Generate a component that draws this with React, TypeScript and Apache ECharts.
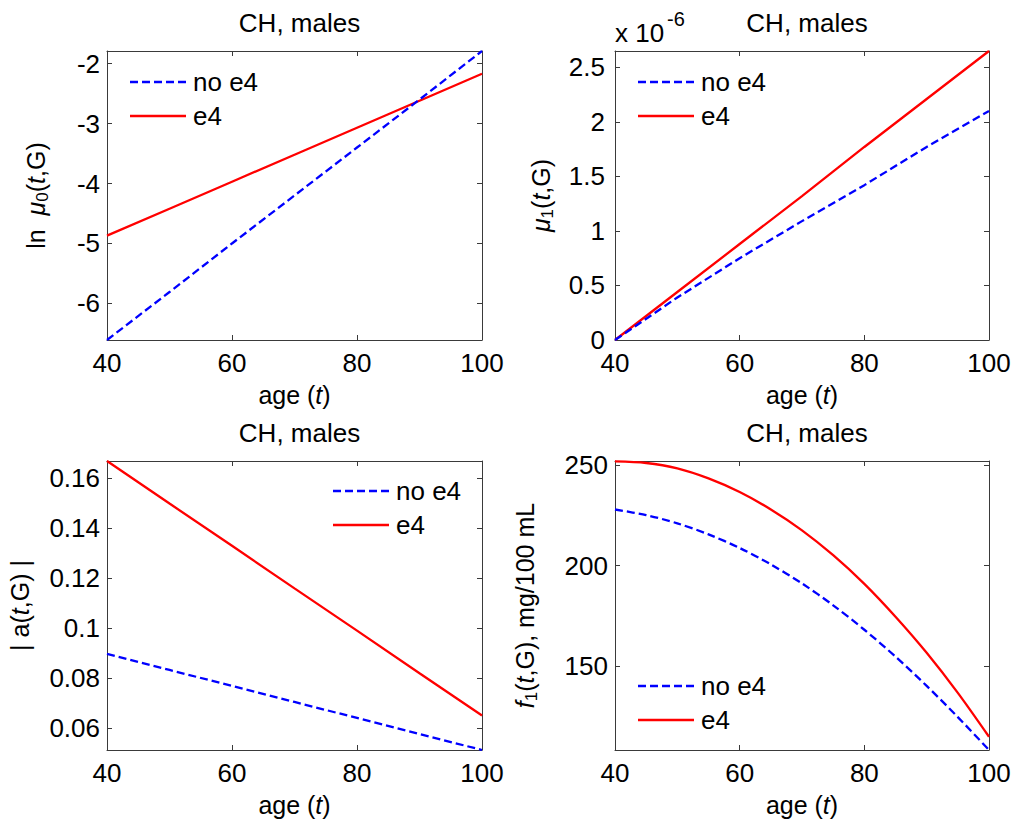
import React, { useEffect, useRef } from "react";
import * as echarts from "echarts";

// ---- data ----
const ages = [40, 50, 60, 70, 80, 90, 100];
const ages5 = [40, 45, 50, 55, 60, 65, 70, 75, 80, 85, 90, 95, 100];

const lnMu0NoE4 = [-6.61, -5.81, -5.0, -4.2, -3.4, -2.6, -1.79];
const lnMu0E4 = [-4.87, -4.42, -3.97, -3.52, -3.07, -2.62, -2.17];

const mu1NoE4 = [0, 0.39, 0.75, 1.09, 1.42, 1.77, 2.1]; // x 1e-6
const mu1E4 = [0, 0.44, 0.88, 1.32, 1.77, 2.21, 2.65]; // x 1e-6

const aNoE4 = [0.0897, 0.0833, 0.0769, 0.0705, 0.0641, 0.0577, 0.0513];
const aE4 = [0.1668, 0.1498, 0.1329, 0.1159, 0.0990, 0.0820, 0.0651];

const f1NoE4 = [228, 225.2, 221.1, 215.6, 208.8, 200.6, 191.1, 180.2, 168, 154.6, 140, 124.4, 108];
const f1E4 = [252, 251.2, 248.5, 243.5, 236.7, 228, 217.6, 205.2, 190.9, 174.5, 156.5, 136.5, 114.6];

const xTicks = { min: 40, max: 100, interval: 20 };
const yTicksLnMu0 = [-6, -5, -4, -3, -2];
const yTicksMu1 = [0, 0.5, 1, 1.5, 2, 2.5];
const yTicksA = [0.06, 0.08, 0.1, 0.12, 0.14, 0.16];
const yTicksF1 = [150, 200, 250];
const titleText = "CH, males";
const seriesNames = ["no e4", "e4"];

const FONT = "Liberation Sans, Arial, Helvetica, sans-serif";
const FS = 26;
const AXIS_COLOR = "#3a3a3a";
const BLUE = "#0000ff";
const RED = "#ff0000";

const grids = [
  { left: 107, top: 51, width: 375, height: 289 },
  { left: 615, top: 51, width: 374, height: 289 },
  { left: 107, top: 461, width: 375, height: 289 },
  { left: 615, top: 461, width: 374, height: 289 },
];

const nameRich = {
  n: { fontSize: 25, fontFamily: FONT, color: "#000", lineHeight: 30, verticalAlign: "middle" },
  i: { fontSize: 25, fontFamily: FONT, fontStyle: "italic", color: "#000", lineHeight: 30, verticalAlign: "middle" },
  s: { fontSize: 17, fontFamily: FONT, color: "#000", lineHeight: 20, verticalAlign: "bottom" },
};

export default function App() {
  const ref = useRef<HTMLDivElement>(null);
  useEffect(() => {
    if (!ref.current) return;
    const chart = echarts.init(ref.current, undefined, { renderer: "svg" });

    const yCfg = [
      { min: -6.61, max: -1.79, ticks: yTicksLnMu0, name: "{n|ln  }{i|μ}{s|0}{n|(}{i|t}{n|,G)}", gap: 56, margin: 7 },
      { min: 0, max: 2.65, ticks: yTicksMu1, name: "{i|μ}{s|1}{n|(}{i|t}{n|,G)}", gap: 59, margin: 10 },
      { min: 0.0513, max: 0.1668, ticks: yTicksA, name: "{n|| a(}{i|t}{n|,G) |}", gap: 72, margin: 7 },
      { min: 108, max: 252.2, ticks: yTicksF1, name: "{i|f}{s|1}{n|(}{i|t}{n|,G), mg/100 mL}", gap: 75, margin: 7 },
    ];

    const xAxis: any[] = [];
    const yAxis: any[] = [];
    grids.forEach((g, k) => {
      xAxis.push({
        type: "value",
        gridIndex: k,
        min: xTicks.min,
        max: xTicks.max,
        interval: xTicks.interval,
        name: "{n|age (}{i|t}{n|)}",
        nameLocation: "middle",
        nameGap: 40,
        nameTextStyle: { rich: nameRich },
        axisLine: { show: true, onZero: false, lineStyle: { color: AXIS_COLOR, width: 1 } },
        axisTick: { show: true, inside: true, length: 5, lineStyle: { color: AXIS_COLOR } },
        axisLabel: { color: "#000", fontSize: FS, fontFamily: FONT, margin: 13, lineHeight: 20 },
        splitLine: { show: false },
      });
      xAxis.push({
        type: "value",
        gridIndex: k,
        position: "top",
        min: xTicks.min,
        max: xTicks.max,
        interval: xTicks.interval,
        axisLine: { show: true, onZero: false, lineStyle: { color: AXIS_COLOR, width: 1 } },
        axisTick: { show: true, inside: true, length: 5, lineStyle: { color: AXIS_COLOR } },
        axisLabel: { show: false },
        splitLine: { show: false },
      });
      const c = yCfg[k];
      yAxis.push({
        type: "value",
        gridIndex: k,
        min: c.min,
        max: c.max,
        name: c.name,
        nameLocation: "middle",
        nameGap: c.gap,
        nameTextStyle: { rich: nameRich },
        axisLine: { show: true, onZero: false, lineStyle: { color: AXIS_COLOR, width: 1 } },
        axisTick: { show: true, inside: true, length: 5, customValues: c.ticks, lineStyle: { color: AXIS_COLOR } },
        axisLabel: {
          color: "#000",
          fontSize: FS,
          fontFamily: FONT,
          margin: c.margin,
          lineHeight: 20,
          customValues: c.ticks,
        },
        splitLine: { show: false },
      });
      yAxis.push({
        type: "value",
        gridIndex: k,
        position: "right",
        min: c.min,
        max: c.max,
        axisLine: { show: true, onZero: false, lineStyle: { color: AXIS_COLOR, width: 1 } },
        axisTick: { show: true, inside: true, length: 5, customValues: c.ticks, lineStyle: { color: AXIS_COLOR } },
        axisLabel: { show: false },
        splitLine: { show: false },
      });
    });

    const pair = (xs: number[], ys: number[]) => xs.map((x, i) => [x, ys[i]]);
    const datasets = [
      [pair(ages, lnMu0NoE4), pair(ages, lnMu0E4)],
      [pair(ages, mu1NoE4), pair(ages, mu1E4)],
      [pair(ages, aNoE4), pair(ages, aE4)],
      [pair(ages5, f1NoE4), pair(ages5, f1E4)],
    ];

    const series: any[] = [];
    datasets.forEach((d, k) => {
      series.push({
        type: "line",
        name: seriesNames[0],
        xAxisIndex: 2 * k,
        yAxisIndex: 2 * k,
        data: d[0],
        showSymbol: false,
        symbol: "none",
        smooth: k === 3 ? 0.3 : false,
        lineStyle: { color: BLUE, width: 2.3, type: [8, 4] },
        itemStyle: { color: BLUE },
        z: 3,
      });
      series.push({
        type: "line",
        name: seriesNames[1],
        xAxisIndex: 2 * k,
        yAxisIndex: 2 * k,
        data: d[1],
        showSymbol: false,
        symbol: "none",
        smooth: k === 3 ? 0.3 : false,
        lineStyle: { color: RED, width: 2.3, type: "solid" },
        itemStyle: { color: RED },
        z: 2,
      });
    });

    const titles = grids.map((g) => ({
      text: titleText,
      left: g.left + g.width / 2,
      top: g.top - 46,
      textAlign: "center",
      textStyle: { fontSize: FS, fontWeight: "normal", fontFamily: FONT, color: "#000" },
    }));

    const legendPos = [
      { x: 130, y: 82 },
      { x: 638, y: 82 },
      { x: 333, y: 491 },
      { x: 638, y: 686 },
    ];
    const graphic: any[] = [];
    legendPos.forEach((p) => {
      graphic.push({
        type: "line",
        shape: { x1: p.x, y1: p.y, x2: p.x + 56, y2: p.y },
        style: { stroke: BLUE, lineWidth: 2.3, lineDash: [8, 4] },
      });
      graphic.push({
        type: "text",
        x: p.x + 63,
        y: p.y,
        style: { text: seriesNames[0], fontSize: FS, fontFamily: FONT, fill: "#000", verticalAlign: "middle" },
      });
      graphic.push({
        type: "line",
        shape: { x1: p.x, y1: p.y + 34, x2: p.x + 56, y2: p.y + 34 },
        style: { stroke: RED, lineWidth: 2.3 },
      });
      graphic.push({
        type: "text",
        x: p.x + 63,
        y: p.y + 34,
        style: { text: seriesNames[1], fontSize: FS, fontFamily: FONT, fill: "#000", verticalAlign: "middle" },
      });
    });
    graphic.push({
      type: "text",
      x: 615,
      y: 33,
      style: { text: "x 10", fontSize: FS, fontFamily: FONT, fill: "#000", verticalAlign: "middle" },
    });
    graphic.push({
      type: "text",
      x: 667,
      y: 19,
      style: { text: "-6", fontSize: 20, fontFamily: FONT, fill: "#000", verticalAlign: "middle" },
    });

    chart.setOption({
      animation: false,
      backgroundColor: "#fff",
      title: titles,
      grid: grids.map((g) => ({ ...g, containLabel: false })),
      xAxis,
      yAxis,
      series,
      graphic,
    });
    return () => chart.dispose();
  }, []);
  return (
    <div
      ref={ref}
      style={{ position: "fixed", left: 0, top: 0, width: 1017, height: 826, background: "#fff" }}
    />
  );
}
